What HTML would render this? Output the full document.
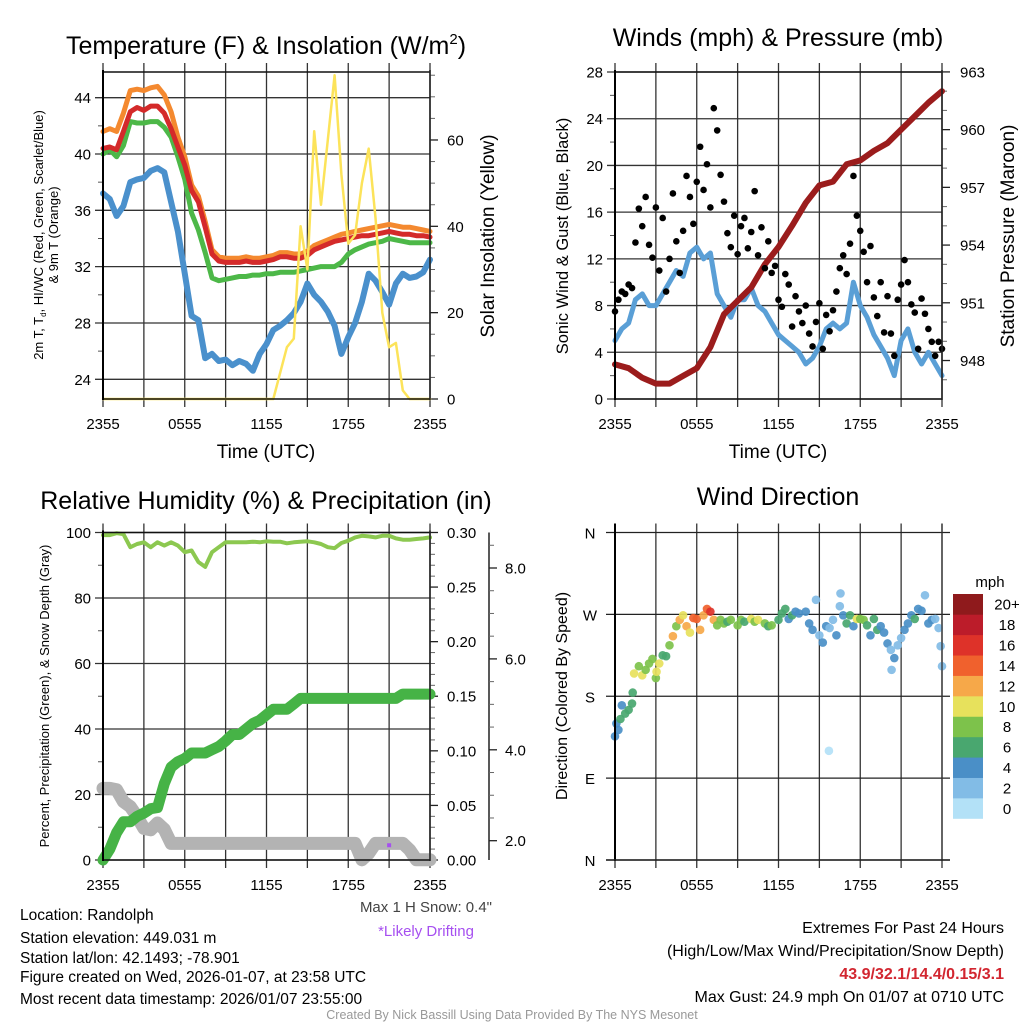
<!DOCTYPE html>
<html><head><meta charset="utf-8"><style>
html,body{margin:0;padding:0;background:#fff;}
svg{display:block;font-family:"Liberation Sans",sans-serif;}
</style></head><body>
<svg id="fig" width="1024" height="1024" viewBox="0 0 1024 1024" xmlns="http://www.w3.org/2000/svg">
<rect width="1024" height="1024" fill="#fff"/>
<text x="266" y="54" font-size="25" text-anchor="middle">Temperature (F) &amp; Insolation (W/m<tspan font-size="15" dy="-10">2</tspan><tspan dy="10">)</tspan></text>
<text x="778" y="46" font-size="25" text-anchor="middle">Winds (mph) &amp; Pressure (mb)</text>
<text x="266" y="509" font-size="25" text-anchor="middle">Relative Humidity (%) &amp; Precipitation (in)</text>
<text x="778" y="505" font-size="25" text-anchor="middle">Wind Direction</text>

<text x="266" y="458" font-size="19" text-anchor="middle">Time (UTC)</text>
<text x="778" y="458" font-size="19" text-anchor="middle">Time (UTC)</text>

<g transform="translate(43,235) rotate(-90)">
<text x="0" y="0" font-size="13" text-anchor="middle">2m T, T<tspan font-size="8" dy="3">d</tspan><tspan dy="-3">, HI/WC (Red, Green, Scarlet/Blue)</tspan></text>
<text x="0" y="15" font-size="13" text-anchor="middle">&amp; 9m T (Orange)</text>
</g>
<text transform="translate(494,236) rotate(-90)" font-size="19" text-anchor="middle">Solar Insolation (Yellow)</text>
<text transform="translate(568,236) rotate(-90)" font-size="16.5" text-anchor="middle">Sonic Wind &amp; Gust (Blue, Black)</text>
<text transform="translate(1014,236) rotate(-90)" font-size="19" text-anchor="middle">Station Pressure (Maroon)</text>
<text transform="translate(49,696) rotate(-90)" font-size="13" text-anchor="middle">Percent, Precipitation (Green), &amp; Snow Depth (Gray)</text>
<text transform="translate(567,696) rotate(-90)" font-size="16" text-anchor="middle">Direction (Colored By Speed)</text>

<text x="492" y="912" font-size="15" fill="#444" text-anchor="end">Max 1 H Snow: 0.4"</text>
<text x="426" y="936" font-size="15" fill="#a64ff0" text-anchor="middle">*Likely Drifting</text>
<g font-size="15.5">
<text x="20" y="920">Location: Randolph</text>
<text x="20" y="943">Station elevation: 449.031 m</text>
<text x="20" y="963">Station lat/lon: 42.1493; -78.901</text>
<text x="20" y="982">Figure created on Wed, 2026-01-07, at 23:58 UTC</text>
<text x="20" y="1004">Most recent data timestamp: 2026/01/07 23:55:00</text>
</g>
<g font-size="16" text-anchor="end">
<text x="1004" y="933">Extremes For Past 24 Hours</text>
<text x="1004" y="956">(High/Low/Max Wind/Precipitation/Snow Depth)</text>
<text x="1004" y="979" fill="#d22630" font-weight="bold">43.9/32.1/14.4/0.15/3.1</text>
<text x="1004" y="1002">Max Gust: 24.9 mph On 01/07 at 0710 UTC</text>
</g>
<text x="512" y="1019" font-size="12.5" fill="#999" text-anchor="middle">Created By Nick Bassill Using Data Provided By The NYS Mesonet</text>
<text x="990" y="587" font-size="15" text-anchor="middle">mph</text>
</svg>
<script>
// ---------- data ----------
const halfHours = [0,0.5,1,1.5,2,2.5,3,3.5,4,4.5,5,5.5,6,6.5,7,7.5,8,8.5,9,9.5,10,10.5,11,11.5,12,12.5,13,13.5,14,14.5,15,15.5,16,16.5,17,17.5,18,18.5,19,19.5,20,20.5,21,21.5,22,22.5,23,23.5,24];
const temp2m = [40.4,40.5,40.3,41.6,43.0,43.3,43.1,43.4,43.4,42.9,41.8,40.5,39.2,37.4,36.6,34.8,32.9,32.4,32.3,32.3,32.3,32.4,32.3,32.3,32.4,32.5,32.7,32.7,32.6,32.6,32.8,33.2,33.4,33.6,33.8,33.9,34.0,34.1,34.2,34.2,34.3,34.4,34.5,34.4,34.3,34.3,34.2,34.2,34.1];
const temp9m = [41.6,41.8,41.6,42.9,44.5,44.6,44.5,44.7,44.8,44.2,43.0,41.2,39.8,37.8,37.0,35.2,33.2,32.7,32.6,32.6,32.6,32.7,32.6,32.6,32.7,32.8,33.0,33.0,32.9,32.9,33.1,33.5,33.7,33.9,34.1,34.3,34.4,34.5,34.6,34.7,34.8,34.9,35.0,34.9,34.8,34.8,34.7,34.6,34.5];
const heatIdx = [40.0,40.3,39.8,40.6,42.3,42.2,42.2,42.3,42.3,41.9,41.2,39.8,38.2,35.8,34.6,33.0,31.2,31.0,31.1,31.2,31.3,31.3,31.4,31.4,31.5,31.5,31.6,31.6,31.6,31.7,31.8,31.9,32.0,32.0,32.0,32.3,32.9,33.2,33.4,33.6,33.7,33.8,34.0,33.9,33.8,33.7,33.7,33.7,33.7];
const dewpt = [37.2,36.8,35.6,36.3,38.0,38.2,38.3,38.8,39.0,38.7,36.6,34.5,31.5,28.5,28.2,25.5,25.8,25.3,25.4,25.0,25.3,25.1,24.6,25.8,26.5,27.5,27.8,28.2,28.7,29.5,30.8,30.0,29.5,28.8,27.8,25.8,27.0,28.0,29.5,31.5,31.0,30.2,29.3,30.8,31.5,31.2,31.3,31.6,32.5];
const solar = [0,0,0,0,0,0,0,0,0,0,0,0,0,0,0,0,0,0,0,0,0,0,0,0,0,0,6,12,14,40,30,62,45,60,75,52,36,38,50,58,42,20,12,13,2,0,0,0,0];
const tempTicks = [24,28,32,36,40,44];
const solarTicks = [0,20,40,60];
const timeLabels = ["2355","0555","1155","1755","2355"];

const windSpeed = [5.0,6.0,6.5,8.5,9.0,8.0,8.0,9.0,10,11,10.5,12.5,13,12,12.5,9,8,7,8.5,8.5,9.5,8,7.5,6.5,5.5,5,4.5,4,3,3.5,4.5,6,6.5,6,6.5,10,8,7,5.5,4.5,3.5,2,5,6,4,3,4,3,2];
const gusts = [7.5,8.5,9.2,9.0,9.8,9.5,13.4,16.3,14.8,17.3,13.2,12.1,16.4,11.0,15.5,9.2,12.0,17.6,13.5,10.8,14.4,19.1,17.3,15.0,18.6,21.6,17.9,20.1,16.4,24.9,23.0,19.2,16.9,14.2,13.0,15.7,12.4,14.8,15.5,12.9,14.3,17.8,12.3,14.7,11.2,13.5,10.8,11.4,8.5,7.9,10.7,9.8,6.2,8.8,7.5,6.5,8.0,5.6,4.5,6.6,8.2,4.3,7.2,5.8,7.6,9.2,11.2,12.3,10.7,13.3,19.1,15.7,14.4,12.6,10.0,13.1,8.7,7.1,10.0,5.7,8.8,5.6,3.7,8.5,9.8,11.9,10.0,8.1,7.4,4.3,8.6,7.3,6.0,4.9,3.7,4.9,4.3];
const hours = [0,1,2,3,4,5,6,7,8,9,10,11,12,13,14,15,16,17,18,19,20,21,22,23,24];
const pressure = [947.8,947.6,947.1,946.8,946.8,947.2,947.6,948.7,950.4,951.1,951.8,953.0,953.9,955.0,956.2,957.1,957.3,958.2,958.4,958.9,959.3,960.0,960.7,961.4,962.0];
const windTicks = [0,4,8,12,16,20,24,28];
const pressTicks = [948,951,954,957,960,963];

const relHum = [99.2,99.2,99.8,99.5,95.5,96.5,97,95.5,97,96,97,96,94,94.5,91,89.5,94,95.5,97,97,97,97,97.2,97,97.3,97.2,97.2,96.7,97,97.2,97.3,97,96.5,95.5,95.2,96.8,97.5,98.5,99,98.8,98.5,99,99,98.2,97.8,97.8,98,98.2,98.5];
const precip = [0,0.01,0.025,0.035,0.035,0.04,0.043,0.047,0.048,0.07,0.085,0.09,0.093,0.098,0.098,0.098,0.101,0.104,0.109,0.115,0.115,0.12,0.125,0.128,0.133,0.138,0.138,0.138,0.143,0.148,0.148,0.148,0.148,0.148,0.148,0.148,0.148,0.148,0.148,0.148,0.148,0.148,0.148,0.148,0.152,0.152,0.152,0.152,0.152];
const snowDepth = [3.15,3.15,3.12,2.86,2.75,2.53,2.27,2.24,2.39,2.25,1.94,1.94,1.94,1.94,1.94,1.94,1.94,1.94,1.94,1.94,1.94,1.94,1.94,1.94,1.94,1.94,1.94,1.94,1.94,1.94,1.94,1.94,1.94,1.94,1.94,1.94,1.94,1.94,1.58,1.72,1.94,1.94,1.94,1.94,1.94,1.80,1.58,1.58,1.58];
const rhTicks = [0,20,40,60,80,100];
const precipTicks = [0,0.05,0.10,0.15,0.20,0.25,0.30];
const snowTicks = [2,4,6,8];
const driftTime = [21];
const driftSnow = [1.90];

const dirTimes = [0,0.1,0.25,0.4,0.5,0.75,1,1.25,1.3,1.4,1.75,2,2.25,2.5,2.75,3,3.05,3.25,3.5,3.75,4,4.25,4.5,4.75,5,5.25,5.5,5.75,6,6.25,6.5,6.75,7,7.25,7.5,7.75,8,8.25,8.5,9,9.25,9.5,10,10.25,10.5,11,11.25,11.5,12,12.25,12.5,12.75,13,13.25,13.5,14,14.25,14.5,14.75,15,15.25,15.5,15.7,15.75,16,16.25,16.5,16.55,16.75,17,17.25,17.5,17.75,18,18.25,18.5,18.75,19,19.25,19.5,19.75,20,20.25,20.3,20.5,20.75,21,21.25,21.5,21.75,22,22.25,22.5,22.75,23,23.25,23.5,23.75,23.9,24];
const dirDeg = [136,150,143,155,170,161,165,172,184,205,213,203,209,216,221,200,207,216,225,224,236,246,257,264,269,257,250,266,265,253,269,276,273,264,258,264,260,262,264,258,264,262,265,262,264,260,257,258,264,271,276,265,269,273,271,273,260,253,286,247,239,257,120,255,264,247,279,293,269,260,269,257,265,265,264,258,247,265,253,257,250,238,231,209,222,236,244,253,260,269,265,276,274,291,260,264,265,255,235,213];
const dirSpeed = [4,4,4,6,4,6,6,6,6,10,8,10,8,8,8,8,10,10,6,6,8,12,8,12,10,12,10,14,14,12,12,14,16,12,8,8,8,6,8,8,8,6,10,8,10,8,6,8,6,6,6,4,6,4,4,4,4,4,2,2,4,4,0,2,2,4,2,2,4,6,6,4,10,8,8,6,4,6,6,4,4,4,2,2,4,2,2,4,4,4,6,4,4,2,4,4,2,2,2,2];
const dirLabels = ["N","E","S","W","N"];
const dirTicks = [0,90,180,270,360];
const cbLabels = ["0","2","4","6","8","10","12","14","16","18","20+"];
const cbColors = ["#b3e1f7","#82bce6","#4a8fc7","#49a76f","#7dc24b","#e7e15c","#f6a849","#f0612d","#de3229","#bc1c2a","#8f1a1c"];

// ---------- scales ----------
const W = 327, TOP = 72, BOT = 399, TOP2 = 532.5, BOT2 = 860;
const xL = t => 103 + t * W / 24;
const xR = t => 615 + t * W / 24;
const yT = v => BOT - (v - 22.6) * 14.08;
const ySol = v => BOT - v * 4.317;
const yW = v => BOT - v * (W / 28);
const yP = v => BOT - (v - 946) * 19.24;
const yRH = v => BOT2 - v * 3.275;
const yPr = v => BOT2 - v * 1091.7;
const ySn = v => 840.7 - (v - 2) * 45.45;
const yD = v => BOT2 - v * (327.5 / 360);

const svg = document.getElementById('fig');
const NS = 'http://www.w3.org/2000/svg';
function mk(tag, attrs, parent) {
  const e = document.createElementNS(NS, tag);
  for (const k in attrs) e.setAttribute(k, attrs[k]);
  (parent || svg).appendChild(e);
  return e;
}
function line(x1, y1, x2, y2, color, w, parent) {
  return mk('line', {x1: x1, y1: y1, x2: x2, y2: y2, stroke: color, 'stroke-width': w}, parent);
}
function txt(x, y, s, size, anchor, parent) {
  const e = mk('text', {x: x, y: y, 'font-size': size, 'text-anchor': anchor}, parent);
  e.textContent = s;
  return e;
}
function pts(ts, vs, fx, fy) { return ts.map((t, i) => fx(t).toFixed(1) + ',' + fy(vs[i]).toFixed(1)).join(' '); }

function timeAxis(fx, top, bot, name) {
  const g = mk('g', {});
  
  
  for (let h = 0; h <= 24; h += 3) {
    const x = fx(h);
    const gl = line(x, top - 9, x, bot + 8, '#333', 1.3, g);
    
    
  }
  timeLabels.forEach((s, i) => {
    const t = txt(fx(i * 6), bot + 30, s, 15, 'middle', g);
    
    
  });
  return g;
}
function frame(x, top, bot, name) {
  const g = mk('g', {});
  
  
  line(x, top, x + W, top, '#111', 1.5, g);
  line(x, bot, x + W, bot, '#111', 1.5, g);
  line(x, top - 2, x, bot + 1, '#000', 2, g);
  line(x + W, top - 2, x + W, bot + 1, '#222', 1.6, g);
  return g;
}
function leftAxis(x, ticks, fy, minorStep, fmt, gridTo, name) {
  const g = mk('g', {});
  
  
  ticks.forEach(v => {
    const y = fy(v);
    const gl = line(x - 8, y, gridTo, y, '#333', 1.3, g);
    
    
    const t = txt(x - 12, y + 5.5, fmt(v), 15, 'end', g);
    
    
  });
  if (minorStep) {
    for (let v = ticks[0] + minorStep; v < ticks[ticks.length - 1]; v += 2 * minorStep) {
      const m = line(x - 5, fy(v), x, fy(v), '#555', 1, g);
      
      
    }
  }
  return g;
}
function rightAxis(x, ticks, fy, minors, fmt, lx, name) {
  const g = mk('g', {});
  
  
  ticks.forEach(v => {
    const y = fy(v);
    line(x, y, x + 8, y, '#222', 1.3, g);
    const t = txt(lx, y + 5.5, fmt(v), 15, 'start', g);
    
    
  });
  minors.forEach(v => {
    const m = line(x, fy(v), x + 5, fy(v), '#666', 1, g);
    
    
  });
  return g;
}
function range(a, b, s) { const r = []; for (let v = a; v <= b + 1e-9; v += s) r.push(+v.toFixed(4)); return r; }
function polyl(ts, vs, fx, fy, color, w) {
  return mk('polyline', {points: pts(ts, vs, fx, fy), fill: 'none', stroke: color, 'stroke-width': w, 'stroke-linejoin': 'round', 'stroke-linecap': 'round'});
}

// ---------- Temperature panel ----------
timeAxis(xL, TOP, BOT, 'temp-time-axis');
leftAxis(103, tempTicks, yT, 2, v => String(v), 430, 'temp-y-axis');
rightAxis(430, solarTicks, ySol, range(5, 75, 5).filter(v => v % 20 !== 0), v => String(v), 447, 'solar-y-axis');
let s;
s = polyl(halfHours, dewpt, xL, yT, '#4a90cc', 6);


s = polyl(halfHours, heatIdx, xL, yT, '#4db848', 5);


s = polyl(halfHours, temp9m, xL, yT, '#f4892f', 5);


s = polyl(halfHours, temp2m, xL, yT, '#d42a2a', 5);


s = polyl(halfHours, solar, xL, ySol, '#fce35a', 2.5);


frame(103, TOP, BOT, 'temp-frame');

// ---------- Wind panel ----------
timeAxis(xR, TOP, BOT, 'wind-time-axis');
leftAxis(615, windTicks, yW, 2, v => String(v), 942, 'wind-y-axis');
rightAxis(942, pressTicks, yP, range(947, 962, 1).filter(v => v % 3 !== 0), v => String(v), 960, 'pressure-y-axis');
s = polyl(halfHours, windSpeed, xR, yW, '#5a9fd6', 5);


s = polyl(hours, pressure, xR, yP, '#9b1c1c', 6);


gusts.forEach((v, i) => {
  const c = mk('circle', {cx: xR(i * 0.25), cy: yW(v), r: 3.3, fill: '#000'});
  
  
});
frame(615, TOP, BOT, 'wind-frame');

// ---------- Humidity panel ----------
timeAxis(xL, TOP2, BOT2, 'humidity-time-axis');
leftAxis(103, rhTicks, yRH, 10, v => String(v), 430, 'humidity-y-axis');
rightAxis(430, precipTicks, yPr, range(0.01, 0.29, 0.01).filter(v => Math.round(v * 100) % 5 !== 0), v => v.toFixed(2), 447, 'precip-y-axis');
(function () {
  const g = mk('g', {});
  
  
  line(489, TOP2, 489, BOT2, '#222', 1.5, g);
  snowTicks.forEach(v => {
    line(489, ySn(v), 497, ySn(v), '#222', 1.3, g);
    const t = txt(505, ySn(v) + 5.5, v.toFixed(1), 15, 'start', g);
    
    
  });
  range(2.5, 8.5, 0.5).filter(v => v % 2 !== 0).forEach(v => { if (ySn(v) > TOP2) line(489, ySn(v), 494, ySn(v), '#666', 1, g); });
})();
s = polyl(halfHours, snowDepth, xL, ySn, '#b3b3b3', 13);


s = polyl(halfHours, precip, xL, yPr, '#46b346', 11);


s = polyl(halfHours, relHum, xL, yRH, '#8cc850', 4);


driftTime.forEach((t, i) => {
  const d = mk('rect', {x: xL(t) - 2, y: ySn(driftSnow[i]) - 2, width: 4, height: 4, fill: '#a64ff0'});
  
  
});
frame(103, TOP2, BOT2, 'humidity-frame');

// ---------- Direction panel ----------
timeAxis(xR, TOP2, BOT2, 'direction-time-axis');
(function () {
  const g = mk('g', {});
  
  
  dirTicks.forEach((v, i) => {
    const gl = line(606, yD(v), 950, yD(v), '#222', 1.3, g);
    
    
    const t = txt(590, yD(v) + 6, dirLabels[i], 15, 'middle', g);
    
    
  });
})();
dirTimes.forEach((t, i) => {
  const ci = Math.min(10, Math.floor(dirSpeed[i] / 2));
  const c = mk('circle', {cx: xR(t), cy: yD(dirDeg[i]), r: 4.3, fill: cbColors[ci], 'fill-opacity': 0.92});
  
  
});
(function () {
  const g = mk('g', {});
  
  
  line(615, TOP2 - 9, 615, BOT2 + 1, '#000', 2, g);
  line(942, TOP2 - 9, 942, BOT2 + 1, '#333', 1.3, g);
  line(606, BOT2, 950, BOT2, '#222', 1.5, g);
})();
(function () {
  const g = mk('g', {});
  
  
  const bh = 224.5 / cbColors.length;
  cbColors.forEach((col, i) => {
    const yb = 818.5 - (i + 1) * bh;
    const r = mk('rect', {x: 953, y: yb, width: 30, height: bh + 0.3, fill: col}, g);
    
    
    const t = txt(1007, yb + bh / 2 + 5.5, cbLabels[i], 15, 'middle', g);
    
    
  });
})();
</script>
</body></html>
